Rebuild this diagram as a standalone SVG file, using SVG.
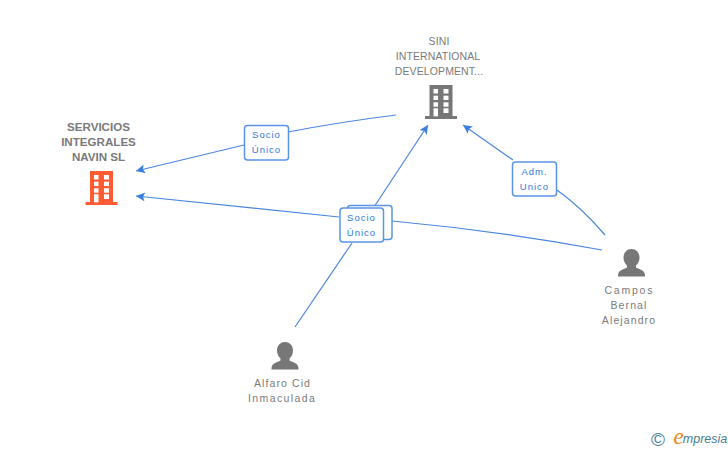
<svg xmlns="http://www.w3.org/2000/svg" width="728" height="450" viewBox="0 0 728 450">
<style>
text{font-family:"Liberation Sans",Arial,sans-serif;text-anchor:middle}
.n{font-size:10.5px;fill:#7a7a7a;letter-spacing:.1px}
.p{font-size:10.5px;fill:#7a7a7a;letter-spacing:1.1px}
.t{font-size:11.6px;font-weight:bold;fill:#7a7a7a}
.e{fill:none;stroke:#4a86e0;stroke-width:1.2}
.b{fill:#fff;stroke:#5a94e6;stroke-width:1.5}
.l{font-size:9.5px;fill:#2f78e0;letter-spacing:1px}
.g{fill:#777}
.o{fill:#ff5c33}
.w{fill:#fff}
</style>
<defs>
<marker id="a" markerWidth="10" markerHeight="10" refX="9" refY="4.500" orient="auto" markerUnits="userSpaceOnUse"><path d="M0 0L9 4.500L0 9L2 4.500Z" fill="#3a7ee0"/></marker>
<g id="bld"><path d="M-16 34V31H-11.500V0H11.500V31H16V34Z"/><g class="w"><rect x="-7.500" y="4" width="4.500" height="4.500"/><rect x="2.500" y="4" width="5" height="4.500"/><rect x="-7.500" y="10.700" width="4.500" height="4.300"/><rect x="2.500" y="10.700" width="5" height="4.300"/><rect x="-7.500" y="17.300" width="4.500" height="4.400"/><rect x="2.500" y="17.300" width="5" height="4.400"/><rect x="-7.500" y="23.300" width="4.500" height="8"/><rect x="2.500" y="23.300" width="5" height="4.700"/></g></g>
<path id="per" d="M0 0C5.500 0 8 4.500 8 8.500C8 12 6.500 15 4.500 16.500V18.500C8 20.500 13.500 21 13.500 26.500V27.500H-13.500V26.500C-13.500 21 -8 20.500 -4.500 18.500V16.500C-6.500 15 -8 12 -8 8.500C-8 4.500 -5.500 0 0 0Z"/>
</defs>
<g id="connectors">
<path class="e" d="M396 115Q340 122 288 132"/>
<path class="e" d="M244 145L136 171" marker-end="url(#a)"/>
<path class="e" d="M602 250Q500 231 392 221"/>
<path class="e" d="M339 217L136 196" marker-end="url(#a)"/>
<path class="e" d="M295 327L352 243"/>
<path class="e" d="M374 207L428 125" marker-end="url(#a)"/>
<path class="e" d="M605 235Q582 208 557 190"/>
<path class="e" d="M513 160L463 125" marker-end="url(#a)"/>
</g>
<g id="node-servicios">
<text class="t" x="98.500" y="131">SERVICIOS</text>
<text class="t" x="98.500" y="146">INTEGRALES</text>
<text class="t" x="98.500" y="161">NAVIN SL</text>
<use href="#bld" class="o" x="101.500" y="171"/>
</g>
<g id="node-sini">
<text class="n" x="439" y="45">SINI</text>
<text class="n" x="438" y="60">INTERNATIONAL</text>
<text class="n" x="439" y="75">DEVELOPMENT...</text>
<use href="#bld" class="g" x="441" y="85"/>
</g>
<g id="node-campos">
<use href="#per" class="g" x="631.500" y="249"/>
<text class="p" x="629" y="294" textLength="49">Campos</text>
<text class="p" x="629" y="309">Bernal</text>
<text class="p" x="629" y="324">Alejandro</text>
</g>
<g id="node-alfaro">
<use href="#per" class="g" x="285" y="342"/>
<text class="p" x="282.500" y="387">Alfaro Cid</text>
<text class="p" x="282" y="402" textLength="68">Inmaculada</text>
</g>
<g id="label-socio-1">
<rect class="b" x="244.500" y="125.500" width="44" height="34.500" rx="3"/>
<text class="l" x="266.500" y="138">Socio</text>
<text class="l" x="266.500" y="153">Único</text>
</g>
<g id="label-adm">
<rect class="b" x="512.500" y="162" width="44" height="34" rx="3"/>
<text class="l" x="534.500" y="175">Adm.</text>
<text class="l" x="534.500" y="190">Unico</text>
</g>
<g id="label-socio-2">
<rect class="b" x="347.500" y="205.500" width="44.500" height="34" rx="3"/>
<rect class="b" x="340" y="208" width="43.500" height="34" rx="3"/>
<text class="l" x="361.500" y="221">Socio</text>
<text class="l" x="361.500" y="236">Único</text>
</g>
<g id="logo">
<text x="658" y="445.500" style="font-size:19px;fill:#4a8296">©</text>
<text x="678.500" y="444" style="font-family:'Liberation Serif',serif;font-size:24px;font-style:italic;fill:#f08a1d">e</text>
<text x="705" y="443" style="font-size:12.500px;font-style:italic;fill:#3f7f90">mpresia</text>
</g>
</svg>
